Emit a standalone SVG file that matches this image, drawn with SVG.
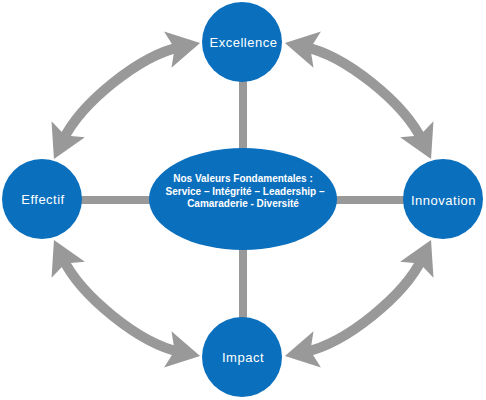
<svg xmlns="http://www.w3.org/2000/svg" width="486" height="400" viewBox="0 0 486 400">
<style>
.node{fill:#0a6fbd}
.lbl{font-family:"Liberation Sans",Arial,sans-serif;font-size:13px;letter-spacing:0.5px;fill:#ffffff;text-anchor:middle}
.core{font-family:"Liberation Sans",Arial,sans-serif;font-size:10px;font-weight:bold;fill:#ffffff;text-anchor:middle}
.spoke{stroke:#999999;stroke-width:8;fill:none}
.arc{stroke:#999999;stroke-width:10;fill:none;marker-start:url(#head);marker-end:url(#head)}
</style>
<defs>
<marker id="head" markerUnits="userSpaceOnUse" markerWidth="40" markerHeight="40" viewBox="0 -20 34 40" refX="13" refY="0" orient="auto-start-reverse" overflow="visible">
<path d="M33,0 L0,-18.5 L7,0 L0,18.5 Z" fill="#999999"/>
</marker>
</defs>
<rect width="486" height="400" fill="#ffffff"/>
<g id="connectors">
<line class="spoke" x1="243" y1="60" x2="243" y2="340"/>
<line class="spoke" x1="60" y1="200" x2="425" y2="200"/>
<path class="arc" d="M62.6,141 C80.7,103.2 139.5,55.4 180.5,47"/>
<path class="arc" d="M422.4,141 C404.3,103.2 345.5,55.4 304.5,47"/>
<path class="arc" d="M62.6,258 C80.7,295.8 139.5,343.6 180.5,352"/>
<path class="arc" d="M422.4,258 C404.3,295.8 345.5,343.6 304.5,352"/>
</g>
<g id="core">
<ellipse class="node" cx="243" cy="199" rx="94" ry="51"/>
<text class="core" x="243" y="182">Nos Valeurs Fondamentales :</text>
<text class="core" x="245" y="194.5">Service – Intégrité – Leadership –</text>
<text class="core" x="243" y="206.5">Camaraderie - Diversité</text>
</g>
<g id="excellence">
<circle class="node" cx="242" cy="42" r="40"/>
<text class="lbl" x="243.5" y="47">Excellence</text>
</g>
<g id="effectif">
<circle class="node" cx="42" cy="199" r="40"/>
<text class="lbl" x="43" y="204">Effectif</text>
</g>
<g id="innovation">
<circle class="node" cx="443" cy="199" r="40"/>
<text class="lbl" x="443.5" y="204.5">Innovation</text>
</g>
<g id="impact">
<circle class="node" cx="242" cy="357" r="40"/>
<text class="lbl" x="243" y="362">Impact</text>
</g>
</svg>
